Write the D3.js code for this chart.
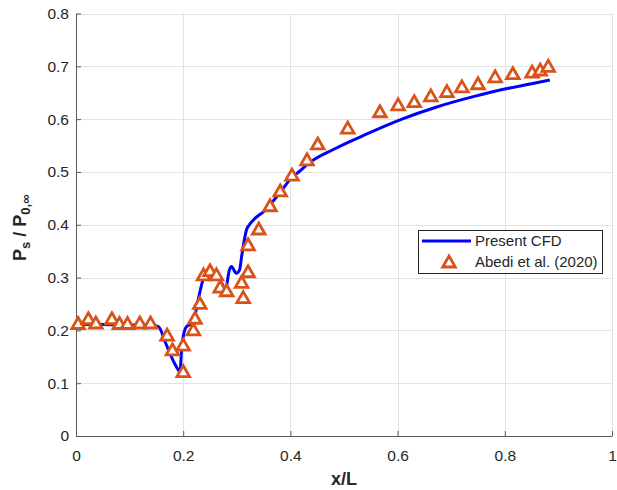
<!DOCTYPE html>
<html>
<head>
<meta charset="utf-8">
<script src="https://cdn.jsdelivr.net/npm/d3@7"></script>
<style>
  html, body { margin: 0; padding: 0; background: #fff; }
  svg { display: block; font-family: "Liberation Sans", Arial, Helvetica, sans-serif; }
</style>
</head>
<body>
<svg id="chart" width="617" height="490"></svg>
<script>
// Present CFD: static pressure ratio along the surface
const cfdX = [0, 0.05, 0.10, 0.138, 0.154, 0.166, 0.178, 0.191, 0.194, 0.197, 0.200, 0.206, 0.216, 0.222,
  0.228, 0.235, 0.241, 0.250, 0.262, 0.272, 0.279, 0.286, 0.290, 0.299, 0.305, 0.309, 0.313, 0.318,
  0.325, 0.334, 0.350, 0.362, 0.380, 0.403, 0.418, 0.431, 0.481, 0.545, 0.608, 0.673, 0.743, 0.800,
  0.850, 0.884];
const cfdY = [0.211, 0.211, 0.210, 0.210, 0.207, 0.179, 0.150, 0.125, 0.121, 0.163, 0.188, 0.207, 0.213, 0.229,
  0.258, 0.289, 0.308, 0.313, 0.302, 0.289, 0.278, 0.314, 0.321, 0.308, 0.314, 0.340, 0.365, 0.390,
  0.402, 0.412, 0.425, 0.438, 0.460, 0.490, 0.502, 0.514, 0.543, 0.573, 0.600, 0.623, 0.643, 0.657,
  0.667, 0.674];

// Abedi et al. (2020) reference measurements
const expX = [0.004, 0.023, 0.037, 0.067, 0.081, 0.096, 0.119, 0.139, 0.170, 0.180, 0.200, 0.200, 0.219,
  0.222, 0.231, 0.238, 0.250, 0.262, 0.269, 0.281, 0.309, 0.312, 0.321, 0.321, 0.341, 0.362, 0.381,
  0.403, 0.431, 0.451, 0.507, 0.567, 0.601, 0.631, 0.662, 0.692, 0.720, 0.750, 0.782, 0.815, 0.851,
  0.866, 0.881];
const expY = [0.213, 0.222, 0.214, 0.222, 0.213, 0.213, 0.214, 0.214, 0.191, 0.163, 0.122, 0.172, 0.201,
  0.223, 0.251, 0.305, 0.313, 0.305, 0.282, 0.275, 0.291, 0.262, 0.311, 0.362, 0.392, 0.436, 0.464,
  0.494, 0.523, 0.553, 0.583, 0.614, 0.627, 0.633, 0.644, 0.652, 0.661, 0.667, 0.680, 0.686, 0.689,
  0.693, 0.700];

const xTicks = [0, 0.2, 0.4, 0.6, 0.8, 1];
const yTicks = [0, 0.1, 0.2, 0.3, 0.4, 0.5, 0.6, 0.7, 0.8];
const seriesNames = ["Present CFD", "Abedi et al. (2020)"];

const svg = d3.select("#chart");
const W = 617, H = 490;
const plot = { left: 76, right: 612, top: 13.5, bottom: 436 };

svg.append("rect").attr("width", W).attr("height", H).attr("fill", "#fff");

const x = d3.scaleLinear().domain([0, 1]).range([plot.left, plot.right]);
const y = d3.scaleLinear().domain([0, 0.8]).range([plot.bottom, plot.top]);

const axisColor = "#262626";
const lineColor = "#0000ff";
const markColor = "#d95319";

// grid
const grid = svg.append("g").attr("stroke", "#e3e3e3").attr("stroke-width", 1);
grid.selectAll("line.gx").data(xTicks).join("line")
  .attr("x1", d => Math.round(x(d)) + 0.5).attr("x2", d => Math.round(x(d)) + 0.5)
  .attr("y1", plot.top).attr("y2", plot.bottom);
grid.selectAll("line.gy").data(yTicks).join("line")
  .attr("y1", d => Math.round(y(d)) + 0.5).attr("y2", d => Math.round(y(d)) + 0.5)
  .attr("x1", plot.left).attr("x2", plot.right);

// axes (ticks point inward)
const fmt = d => d === 0 ? "0" : (d === 1 ? "1" : d3.format(".1f")(d));
const xAxis = svg.append("g")
  .attr("transform", `translate(0,${plot.bottom})`)
  .call(d3.axisBottom(x).tickValues(xTicks).tickFormat(fmt).tickSizeInner(-5).tickSizeOuter(0).tickPadding(14));
const yAxis = svg.append("g")
  .attr("transform", `translate(${plot.left},0)`)
  .call(d3.axisLeft(y).tickValues(yTicks).tickFormat(fmt).tickSizeInner(-5).tickSizeOuter(0).tickPadding(7));
[xAxis, yAxis].forEach(g => {
  g.select(".domain").attr("stroke", "#5a5a5a").attr("stroke-width", 1);
  g.selectAll(".tick line").attr("stroke", "#5a5a5a");
  g.selectAll(".tick text").attr("fill", axisColor).attr("font-size", 15.5)
    .attr("font-family", "'Liberation Sans', Arial, sans-serif");
});
xAxis.selectAll(".tick text").attr("dy", "0.71em").attr("y", 14);

// CFD curve
const cfd = cfdX.map((v, i) => [v, cfdY[i]]);
svg.append("path")
  .datum(cfd)
  .attr("fill", "none")
  .attr("stroke", lineColor)
  .attr("stroke-width", 3)
  .attr("stroke-linejoin", "round")
  .attr("d", d3.line().x(d => x(d[0])).y(d => y(d[1])).curve(d3.curveMonotoneX));

// triangle marker centred on its bounding box
const tri = "M0,-6L6.3,5L-6.3,5Z";
const exp = expX.map((v, i) => [v, expY[i]]);
svg.append("g").selectAll("path").data(exp).join("path")
  .attr("d", tri)
  .attr("transform", d => `translate(${x(d[0])},${y(d[1])})`)
  .attr("fill", "#fff")
  .attr("stroke", markColor)
  .attr("stroke-width", 2.8)
  .attr("stroke-linejoin", "miter");

// axis titles
svg.append("text")
  .attr("x", (plot.left + plot.right) / 2).attr("y", 485)
  .attr("text-anchor", "middle")
  .attr("font-size", 18).attr("font-weight", "bold").attr("fill", axisColor)
  .text("x/L");

const yl = svg.append("text")
  .attr("transform", `translate(26,${(plot.top + plot.bottom) / 2 + 3}) rotate(-90)`)
  .attr("text-anchor", "middle")
  .attr("font-size", 18).attr("font-weight", "bold").attr("fill", axisColor);
yl.append("tspan").text("P");
yl.append("tspan").attr("font-size", 13).attr("dy", 4).text("s");
yl.append("tspan").attr("dy", -4).text(" / P");
yl.append("tspan").attr("font-size", 13).attr("dy", 4).text("0,∞");

// legend
const lg = svg.append("g");
lg.append("rect").attr("x", 418.5).attr("y", 230.5).attr("width", 184).attr("height", 43)
  .attr("fill", "#fff").attr("stroke", "#262626").attr("stroke-width", 1);
lg.append("line").attr("x1", 422).attr("x2", 471).attr("y1", 241).attr("y2", 241)
  .attr("stroke", lineColor).attr("stroke-width", 3);
lg.append("path").attr("d", tri).attr("transform", "translate(449,262)")
  .attr("fill", "#fff").attr("stroke", markColor).attr("stroke-width", 2.8);
lg.selectAll("text").data(seriesNames).join("text")
  .attr("x", 475).attr("y", (d, i) => 241 + i * 21)
  .attr("dy", "0.35em")
  .attr("font-size", 15).attr("fill", axisColor)
  .text(d => d);
</script>
</body>
</html>
